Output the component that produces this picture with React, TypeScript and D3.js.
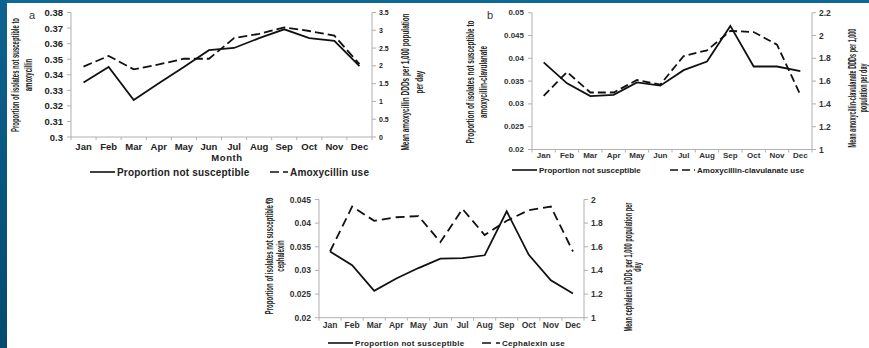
import React, { useLayoutEffect, useRef, useState } from "react";
import * as d3 from "d3";

const months = ["Jan", "Feb", "Mar", "Apr", "May", "Jun", "Jul", "Aug", "Sep", "Oct", "Nov", "Dec"];

// Panel a
const amoxNotSusceptible = [0.335, 0.345, 0.3237, 0.3345, 0.345, 0.3558, 0.3572, 0.3635, 0.3692, 0.3635, 0.3618, 0.3455];
const amoxUse = [1.98, 2.28, 1.9, 2.04, 2.2, 2.2, 2.78, 2.9, 3.08, 2.98, 2.85, 2.05];
const amoxLeftTicks = [0.3, 0.31, 0.32, 0.33, 0.34, 0.35, 0.36, 0.37, 0.38];
const amoxRightTicks = [0, 0.5, 1, 1.5, 2, 2.5, 3, 3.5];

// Panel b
const clavNotSusceptible = [0.0391, 0.0345, 0.0317, 0.032, 0.0347, 0.034, 0.0374, 0.0393, 0.0471, 0.0382, 0.0382, 0.0372];
const clavUse = [1.47, 1.68, 1.5, 1.5, 1.61, 1.57, 1.82, 1.87, 2.04, 2.03, 1.92, 1.48];
const clavLeftTicks = [0.02, 0.025, 0.03, 0.035, 0.04, 0.045, 0.05];
const clavRightTicks = [1, 1.2, 1.4, 1.6, 1.8, 2, 2.2];

// Panel c
const cephNotSusceptible = [0.034, 0.0311, 0.0257, 0.0283, 0.0305, 0.0325, 0.0326, 0.0332, 0.0425, 0.0333, 0.0279, 0.0251];
const cephUse = [1.56, 1.94, 1.82, 1.85, 1.86, 1.64, 1.92, 1.7, 1.82, 1.91, 1.94, 1.56];
const cephLeftTicks = [0.02, 0.025, 0.03, 0.035, 0.04, 0.045];
const cephRightTicks = [1, 1.2, 1.4, 1.6, 1.8, 2];

const AX = "#b0b0b0";
const SANS = "'Liberation Sans', Arial, sans-serif";

function Title({ lines, xs, y, len }: { lines: string[]; xs: number[]; y: number; len: number }) {
  const ref = useRef<SVGTextElement>(null);
  const [s, setS] = useState(0.6);
  useLayoutEffect(() => {
    if (ref.current) {
      const w = ref.current.getComputedTextLength();
      if (w > 0) setS(len / w);
    }
  }, [len]);
  return (
    <g>
      {lines.map((t, i) => (
        <text
          key={i}
          ref={i === 0 ? ref : undefined}
          transform={`translate(${xs[i]},${y}) rotate(-90) scale(${s},1)`}
          textAnchor="middle"
          dominantBaseline="central"
          fontFamily={SANS}
          fontWeight="bold"
          fontSize={10}
          fill="#222"
        >
          {t}
        </text>
      ))}
    </g>
  );
}

type PanelProps = {
  letter: string;
  letterPos: [number, number];
  x0: number; x1: number; yTop: number; yBot: number;
  leftDomain: [number, number]; rightDomain: [number, number];
  leftTicks: number[]; rightTicks: number[];
  solid: number[]; dashed: number[];
  leftTitle: string[]; leftTitleX: number[]; leftTitleLen: number; leftTitleY: number;
  rightTitle: string[]; rightTitleX: number[]; rightTitleLen: number; rightTitleY: number;
  tickFont: number; rightTickFont: number; monthFont: number; tickWeight: string | number;
  monthY: number;
  legendY: number; legendSolid: [number, number]; legendDashed: [number, number];
  legendSolidText: string; legendDashedText: string; legendFont: number; legendSpacing: number;
  dash: string;
  xLabel?: string; xLabelPos?: [number, number];
  tickColor: string;
};

function Panel(p: PanelProps) {
  const x = d3.scaleBand<string>().domain(months).range([p.x0, p.x1]);
  const yl = d3.scaleLinear().domain(p.leftDomain).range([p.yBot, p.yTop]);
  const yr = d3.scaleLinear().domain(p.rightDomain).range([p.yBot, p.yTop]);
  const cx = (m: string) => (x(m) as number) + x.bandwidth() / 2;
  const lineL = d3.line<number>().x((_, i) => cx(months[i])).y((d) => yl(d));
  const lineR = d3.line<number>().x((_, i) => cx(months[i])).y((d) => yr(d));
  const boundaries = months.map((m) => x(m) as number).concat([p.x1]);
  return (
    <g>
      <text x={p.letterPos[0]} y={p.letterPos[1]} fontFamily={SANS} fontSize={11} fill="#333" dominantBaseline="central" textAnchor="middle">{p.letter}</text>
      <line x1={p.x0} x2={p.x0} y1={p.yTop} y2={p.yBot} stroke={AX} strokeWidth={1} />
      <line x1={p.x1} x2={p.x1} y1={p.yTop} y2={p.yBot} stroke={AX} strokeWidth={1} />
      <line x1={p.x0} x2={p.x1} y1={p.yBot} y2={p.yBot} stroke={AX} strokeWidth={1} />
      {boundaries.map((b, i) => (
        <line key={"xt" + i} x1={b} x2={b} y1={p.yBot} y2={p.yBot + 3} stroke={AX} />
      ))}
      {p.leftTicks.map((t) => (
        <g key={"lt" + t}>
          <line x1={p.x0 - 4} x2={p.x0} y1={yl(t)} y2={yl(t)} stroke={AX} />
          <text x={p.x0 - 8} y={yl(t)} textAnchor="end" dominantBaseline="central" fontFamily={SANS} fontWeight={p.tickWeight} fontSize={p.tickFont} fill={p.tickColor}>{String(t)}</text>
        </g>
      ))}
      {p.rightTicks.map((t) => (
        <g key={"rt" + t}>
          <line x1={p.x1} x2={p.x1 + 4} y1={yr(t)} y2={yr(t)} stroke={AX} />
          <text x={p.x1 + 7} y={yr(t)} textAnchor="start" dominantBaseline="central" fontFamily={SANS} fontWeight={p.tickWeight} fontSize={p.rightTickFont} fill={p.tickColor}>{String(t)}</text>
        </g>
      ))}
      {months.map((m) => (
        <text key={"m" + m} x={cx(m)} y={p.monthY} textAnchor="middle" dominantBaseline="central" fontFamily={SANS} fontWeight={p.tickWeight} fontSize={p.monthFont} fill={p.tickColor}>{m}</text>
      ))}
      <Title lines={p.leftTitle} xs={p.leftTitleX} y={p.leftTitleY} len={p.leftTitleLen} />
      <Title lines={p.rightTitle} xs={p.rightTitleX} y={p.rightTitleY} len={p.rightTitleLen} />
      {p.xLabel && p.xLabelPos && (
        <text x={p.xLabelPos[0]} y={p.xLabelPos[1]} textAnchor="middle" dominantBaseline="central" fontFamily={SANS} fontWeight="bold" fontSize={9.5} fill="#222" letterSpacing={0.6}>{p.xLabel}</text>
      )}
      <path d={lineR(p.dashed) || ""} fill="none" stroke="#111" strokeWidth={1.8} strokeDasharray={p.dash} />
      <path d={lineL(p.solid) || ""} fill="none" stroke="#111" strokeWidth={1.8} />
      <line x1={p.legendSolid[0]} x2={p.legendSolid[1]} y1={p.legendY} y2={p.legendY} stroke="#111" strokeWidth={1.6} />
      <text x={p.legendSolid[1] + 2} y={p.legendY} dominantBaseline="central" fontFamily={SANS} fontWeight="bold" fontSize={p.legendFont} letterSpacing={p.legendSpacing} fill="#222">{p.legendSolidText}</text>
      <line x1={p.legendDashed[0]} x2={p.legendDashed[1]} y1={p.legendY} y2={p.legendY} stroke="#111" strokeWidth={1.6} strokeDasharray={p.dash} />
      <text x={p.legendDashed[1] + 2} y={p.legendY} dominantBaseline="central" fontFamily={SANS} fontWeight="bold" fontSize={p.legendFont} letterSpacing={p.legendSpacing} fill="#222">{p.legendDashedText}</text>
    </g>
  );
}

export default function App() {
  return (
    <svg width={869} height={348} style={{ position: "absolute", left: 0, top: 0, background: "#fff" }}>
      <defs>
        <linearGradient id="frame" x1="0" y1="0" x2="0" y2="1">
          <stop offset="0" stopColor="#0d6390" />
          <stop offset="1" stopColor="#054a70" />
        </linearGradient>
      </defs>
      <rect x={0} y={0} width={869} height={348} fill="#fff" />
      <rect x={0} y={0} width={869} height={3} fill="#0d6a98" />
      <rect x={0} y={0} width={7} height={348} fill="url(#frame)" />

      <Panel
        letter="a" letterPos={[32, 15]}
        x0={71} x1={372} yTop={12.5} yBot={137}
        leftDomain={[0.3, 0.38]} rightDomain={[0, 3.5]}
        leftTicks={amoxLeftTicks} rightTicks={amoxRightTicks}
        solid={amoxNotSusceptible} dashed={amoxUse}
        leftTitle={["Proportion of isolates not susceptible to", "amoxycillin"]} leftTitleX={[16, 29]} leftTitleLen={114} leftTitleY={75}
        rightTitle={["Mean amoxycillin DDDs per 1,000 population", "per day"]} rightTitleX={[405, 419]} rightTitleLen={137} rightTitleY={82}
        tickFont={9.5} rightTickFont={7} monthFont={9.5} tickWeight="bold" tickColor="#222"
        monthY={146}
        legendY={172} legendSolid={[90, 115]} legendDashed={[270, 288]}
        legendSolidText="Proportion not susceptible" legendDashedText="Amoxycillin use" legendFont={10} legendSpacing={0.2}
        dash="9,4"
        xLabel="Month" xLabelPos={[227, 157]}
      />
      <Panel
        letter="b" letterPos={[490, 15]}
        x0={532} x1={812} yTop={12.7} yBot={149.5}
        leftDomain={[0.02, 0.05]} rightDomain={[1, 2.2]}
        leftTicks={clavLeftTicks} rightTicks={clavRightTicks}
        solid={clavNotSusceptible} dashed={clavUse}
        leftTitle={["Proportion of isolates not susceptible to", "amoxycillin-clavulanate"]} leftTitleX={[470, 483]} leftTitleLen={123} leftTitleY={82}
        rightTitle={["Mean amoxycillin-clavulanate DDDs per 1,000", "population per day"]} rightTitleX={[853, 863.5]} rightTitleLen={119} rightTitleY={88}
        tickFont={8} rightTickFont={8.5} monthFont={8} tickWeight={600} tickColor="#333"
        monthY={155}
        legendY={170} legendSolid={[512, 537]} legendDashed={[670, 695]}
        legendSolidText="Proportion not susceptible" legendDashedText="Amoxycillin-clavulanate use" legendFont={8} legendSpacing={0}
        dash="8,4"
      />
      <Panel
        letter="c" letterPos={[268, 200]}
        x0={319} x1={584} yTop={199.5} yBot={317.7}
        leftDomain={[0.02, 0.045]} rightDomain={[1, 2]}
        leftTicks={cephLeftTicks} rightTicks={cephRightTicks}
        solid={cephNotSusceptible} dashed={cephUse}
        leftTitle={["Proportion of isolates not susceptible to", "cephalexin"]} leftTitleX={[270, 281]} leftTitleLen={117} leftTitleY={256}
        rightTitle={["Mean cephalexin DDDs per 1,000 population per", "day"]} rightTitleX={[629, 638]} rightTitleLen={129} rightTitleY={267}
        tickFont={8.5} rightTickFont={8.5} monthFont={8.5} tickWeight="bold" tickColor="#333"
        monthY={324.5}
        legendY={343} legendSolid={[328, 353]} legendDashed={[482, 500]}
        legendSolidText="Proportion not susceptible" legendDashedText="Cephalexin use" legendFont={8} legendSpacing={0.3}
        dash="9,5"
      />
    </svg>
  );
}
